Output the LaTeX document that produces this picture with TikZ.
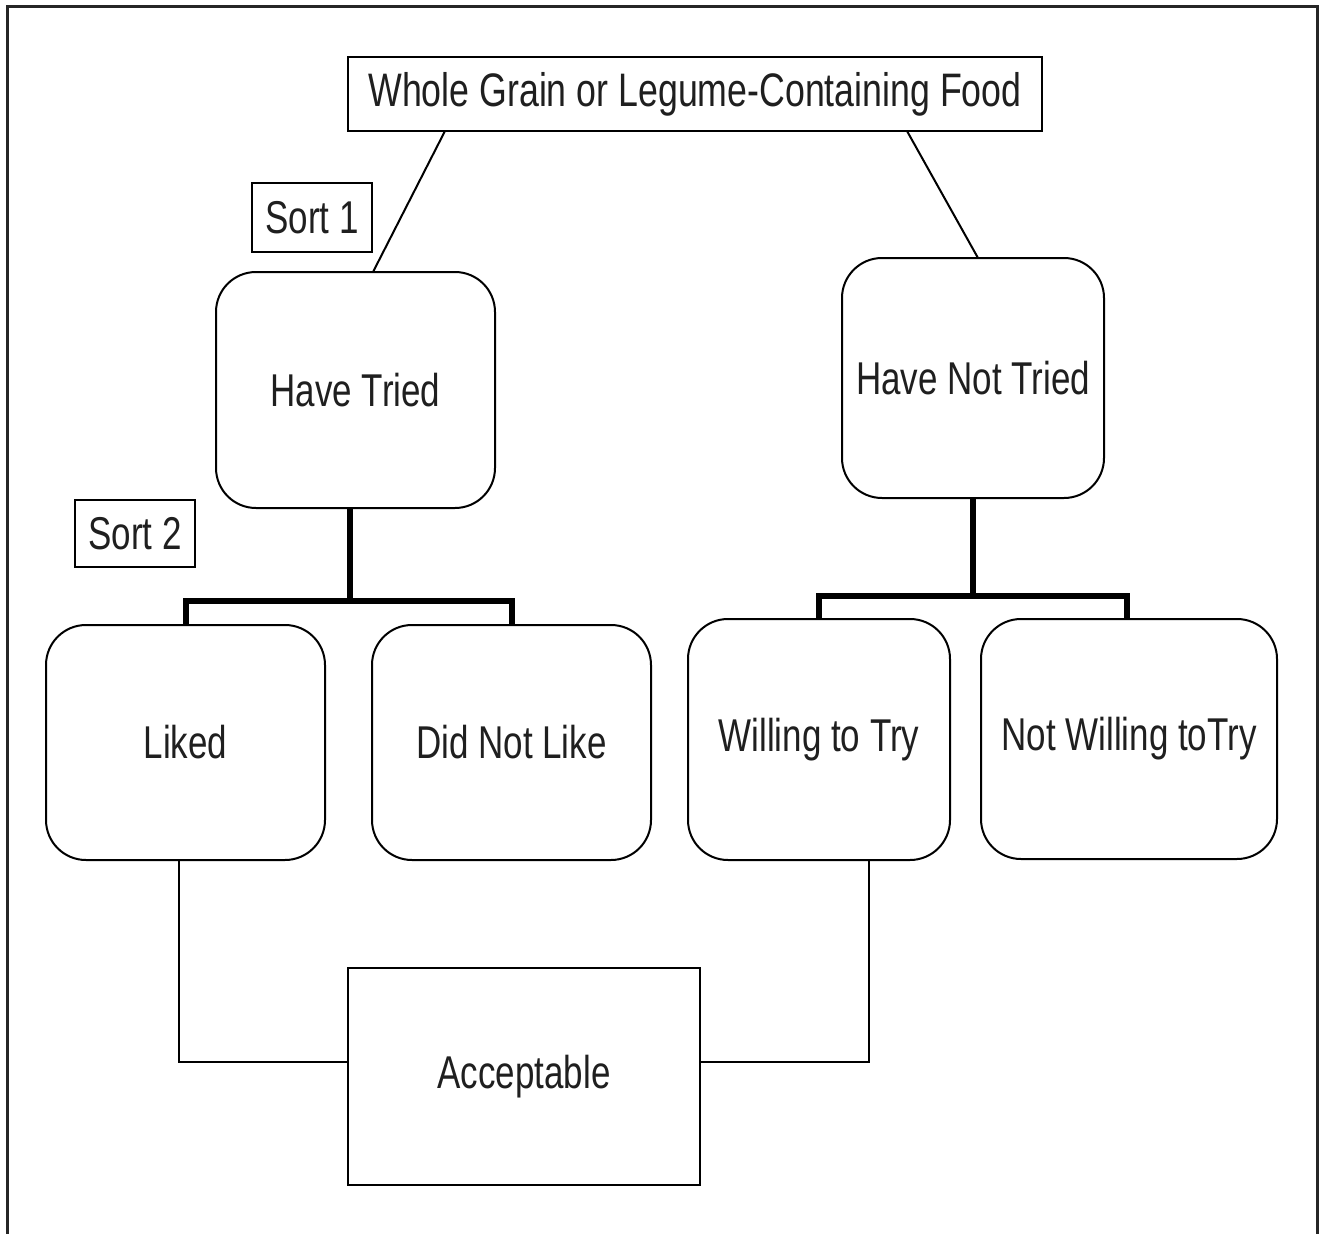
\documentclass[tikz,border=0pt]{standalone}
\usepackage{fontspec}
\setmainfont{Liberation Sans}[FakeStretch=0.76]
\usetikzlibrary{calc}
\begin{document}
\begin{tikzpicture}[x=1pt,y=-1pt,
  every node/.style={inner sep=0pt,outer sep=0pt,font=\fontsize{46}{50}\selectfont,text=black!88},
  sqbox/.style={draw,line width=2pt,rectangle},
  rbox/.style={draw,line width=2pt,rectangle,rounded corners=40pt},
  thin/.style={line width=2pt},
  thick3/.style={line width=6pt}]
\useasboundingbox (0,0) rectangle (1328,1234);
\draw[line width=3pt,black!85] (7,1234) -- (7,6) -- (1317,6) -- (1317,1234);

\node[sqbox,minimum width=694pt,minimum height=74pt,font=\fontsize{47}{51}\selectfont] (top) at (695,94) {Whole Grain or Legume-Containing Food};
\node[sqbox,minimum width=120pt,minimum height=69pt] (sort1) at (312,217.5) {Sort 1};
\node[rbox,minimum width=279pt,minimum height=236pt] (tried) at (355.5,390) {Have Tried};
\node[rbox,minimum width=262pt,minimum height=240pt] (nottried) at (973,378) {Have Not Tried};
\node[sqbox,minimum width=120pt,minimum height=67pt] (sort2) at (135,533.5) {Sort 2};
\node[rbox,minimum width=279pt,minimum height=235pt] (liked) at (185.5,742.5) {Liked};
\node[rbox,minimum width=279pt,minimum height=235pt] (dislike) at (511.5,742.5) {Did Not Like};
\node[rbox,minimum width=262pt,minimum height=241pt] (willing) at (819,739.5) {Willing to Try};
\node[rbox,minimum width=296pt,minimum height=240pt] (notwilling) at (1129,739) {Not Willing toTry};
\node[sqbox,minimum width=352pt,minimum height=217pt] (accept) at (524,1076.5) {Acceptable};

% top connectors
\draw[thin] ($(top.south)+(-250,0)$) -- ($(tried.north)+(17.5,0)$);
\draw[thin] ($(top.south)+(212,0)$) -- ($(nottried.north)+(5,0)$);

% thick branches
\draw[thick3] ($(tried.south)+(-6,0)$) -- ++(0,93) coordinate (j1);
\draw[thick3] (liked.north) |- (j1) -| (dislike.north);
\draw[thick3] (nottried.south) -- ++(0,98) coordinate (j2);
\draw[thick3] (willing.north) |- (j2) -| ($(notwilling.north)+(-2,0)$);

% acceptable connectors
\draw[thin] ($(liked.south)+(-6.5,0)$) |- ($(accept.west)+(0,-15)$);
\draw[thin] ($(willing.south)+(50,0)$) |- ($(accept.east)+(0,-15)$);
\end{tikzpicture}
\end{document}
